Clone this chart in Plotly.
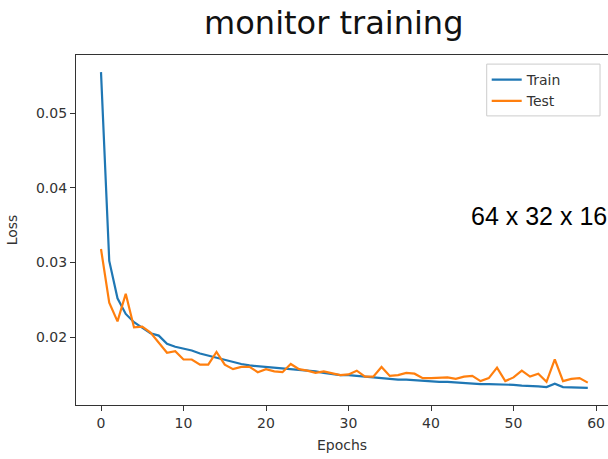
import plotly.graph_objects as go

epochs = list(range(60))
train_loss = [0.0555, 0.0302, 0.0252, 0.0231, 0.0220, 0.0213, 0.0205, 0.0202, 0.0191, 0.0187,
              0.0185, 0.0182, 0.0178, 0.0175, 0.0172, 0.0169, 0.0166, 0.0164, 0.0162, 0.0161,
              0.0160, 0.0159, 0.0158, 0.0157, 0.0156, 0.0155, 0.0154, 0.0152, 0.0150, 0.0149,
              0.0149, 0.0148, 0.0147, 0.0146, 0.0145, 0.0144, 0.0143, 0.0143, 0.0142, 0.0141,
              0.0141, 0.0140, 0.0140, 0.0139, 0.0139, 0.0138, 0.0137, 0.0137, 0.0137, 0.0136,
              0.0136, 0.0135, 0.0135, 0.0134, 0.0133, 0.01375, 0.0133, 0.0133, 0.0132, 0.0132]
test_loss = [0.0318, 0.0246, 0.0221, 0.0258, 0.0213, 0.0214, 0.0206, 0.0192, 0.0179, 0.0181,
             0.0170, 0.0170, 0.0163, 0.0163, 0.0180, 0.0163, 0.0157, 0.0160, 0.0160, 0.0153,
             0.0157, 0.0154, 0.0153, 0.0164, 0.0157, 0.0155, 0.0152, 0.0154, 0.0151, 0.0149,
             0.0150, 0.0155, 0.0147, 0.0147, 0.0160, 0.0148, 0.0149, 0.0152, 0.0151, 0.0145,
             0.0145, 0.0146, 0.0146, 0.0144, 0.0147, 0.0148, 0.0141, 0.0145, 0.0159, 0.0141,
             0.0146, 0.0155, 0.0147, 0.0151, 0.0140, 0.0170, 0.0141, 0.0144, 0.0145, 0.0139]
x_ticks = [0, 10, 20, 30, 40, 50, 60]
y_ticks = [0.02, 0.03, 0.04, 0.05]
y_tick_text = ["0.02", "0.03", "0.04", "0.05"]

FONT = "DejaVu Sans"

fig = go.Figure()
fig.add_trace(go.Scatter(x=epochs, y=train_loss, mode="lines", name="Train",
                         line=dict(color="#1f77b4", width=2.2)))
fig.add_trace(go.Scatter(x=epochs, y=test_loss, mode="lines", name="Test",
                         line=dict(color="#ff7f0e", width=2.2)))

axis_common = dict(showgrid=False, zeroline=False, showline=True, linecolor="#333333",
                   linewidth=1.3, ticks="outside", ticklen=5, tickwidth=1.3,
                   tickcolor="#333333", automargin=False,
                   tickfont=dict(family=FONT, size=14, color="#333333"))

fig.update_layout(
    width=608, height=459,
    margin=dict(l=76, r=0, t=55, b=54, autoexpand=False),
    paper_bgcolor="white", plot_bgcolor="white",
    title=dict(text="monitor training", xref="container", yref="container",
               x=0.549, xanchor="center", y=0.95, yanchor="middle", automargin=False,
               font=dict(family=FONT, size=32, color="#111111")),
    xaxis=dict(range=[-3.03, 61.45], tickvals=x_ticks, mirror=True,
               title=dict(text="Epochs", font=dict(family=FONT, size=14, color="#333333"), standoff=10),
               **axis_common),
    yaxis=dict(range=[0.0109, 0.0578], tickvals=y_ticks, ticktext=y_tick_text, mirror=False,
               title=dict(text="Loss", font=dict(family=FONT, size=14, color="#333333"), standoff=14),
               **axis_common),
    legend=dict(x=0.772, y=0.974, xanchor="left", yanchor="top", bgcolor="rgba(255,255,255,0)",
                borderwidth=0,
                font=dict(family=FONT, size=14, color="#333333")),
    showlegend=True,
)

fig.add_shape(type="rect", xref="paper", yref="paper", x0=0.772, x1=0.985, y0=0.826, y1=0.974,
              line=dict(color="#cccccc", width=1), fillcolor="rgba(255,255,255,0.8)", layer="above")

fig.add_annotation(text="64 x 32 x 16", xref="paper", yref="paper",
                   x=0.738, y=0.54, xanchor="left", yanchor="middle", showarrow=False,
                   font=dict(family="Liberation Sans", size=25, color="black"))

fig.write_html("out.html", config={"displayModeBar": False},
               post_script="document.body.style.margin='0';document.body.style.overflow='hidden';")
